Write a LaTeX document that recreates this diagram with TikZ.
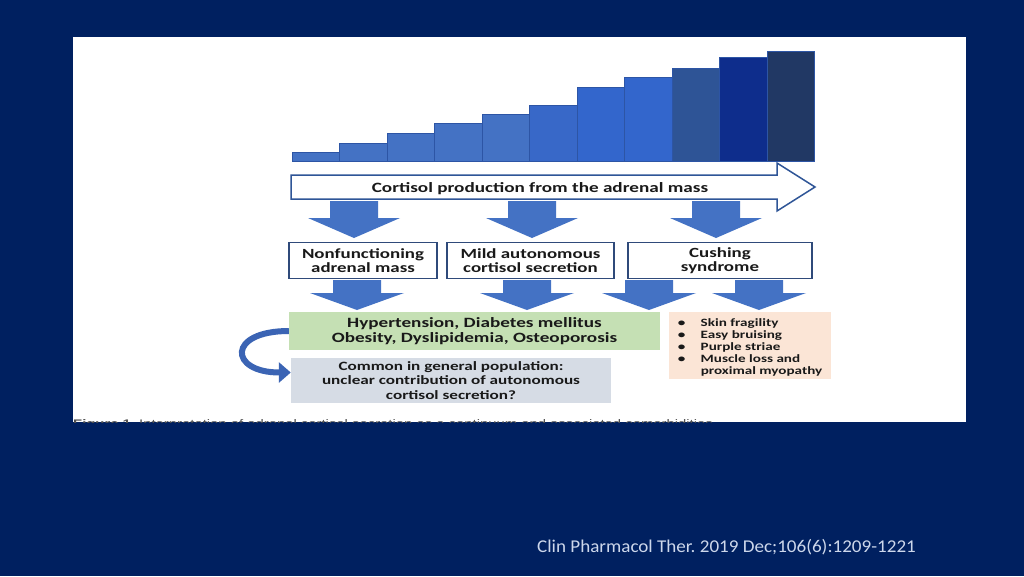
\documentclass[tikz,border=0pt]{standalone}
\usepackage{fontspec}
\setmainfont{Carlito}[FakeStretch=1.35]
\newfontfamily\capfont{Liberation Sans}[FakeStretch=1.35]
\newfontfamily\citefont{Carlito}[FakeStretch=1.06]
\usetikzlibrary{arrows.meta}
\frenchspacing
\begin{document}
\begin{tikzpicture}[x=1pt,y=-1pt,
  bar/.style={draw={rgb,255:red,45;green,85;blue,165},line width=0.4pt},
  blockarrow/.style={fill={rgb,255:red,68;green,114;blue,196},draw=none},
  stagebox/.style={draw={rgb,255:red,47;green,74;blue,122},line width=1.8pt,fill=white,minimum height=36pt,inner sep=0pt,align=center,text={rgb,255:red,25;green,25;blue,25},font=\bfseries\fontsize{14}{14.5}\selectfont},
  infobox/.style={draw=none,inner sep=0pt,align=center,text={rgb,255:red,25;green,25;blue,25}}]
\path[use as bounding box] (0,0) rectangle (1024,576);
\path[fill={rgb,255:red,0;green,32;blue,96},draw=none] (0,0) rectangle (1024,576);
\path[fill=white,draw=none] (73,37) rectangle (966,422);
% staircase
\path[bar,fill={rgb,255:red,68;green,114;blue,196}] (292,152) rectangle (339.5,161);
\path[bar,fill={rgb,255:red,68;green,114;blue,196}] (339.5,143) rectangle (387,161);
\path[bar,fill={rgb,255:red,68;green,114;blue,196}] (387,133) rectangle (434.5,161);
\path[bar,fill={rgb,255:red,68;green,114;blue,196}] (434.5,123) rectangle (482,161);
\path[bar,fill={rgb,255:red,68;green,114;blue,196}] (482,114) rectangle (529.5,161);
\path[bar,fill={rgb,255:red,56;green,104;blue,200}] (529.5,105) rectangle (577,161);
\path[bar,fill={rgb,255:red,51;green,102;blue,204}] (577,87) rectangle (624.5,161);
\path[bar,fill={rgb,255:red,51;green,102;blue,204}] (624.5,77) rectangle (672,161);
\path[bar,fill={rgb,255:red,46;green,84;blue,150}] (672,68) rectangle (719.5,161);
\path[bar,fill={rgb,255:red,14;green,45;blue,140}] (719.5,57) rectangle (767,161);
\path[bar,fill={rgb,255:red,33;green,56;blue,100}] (767,51) rectangle (814.5,161);
% production arrow
\path[fill=white,draw={rgb,255:red,47;green,85;blue,151},line width=1.5pt] (291,175) -- (777,175) -- (777,163) -- (815,187) -- (777,211) -- (777,199) -- (291,199) -- cycle;
\node[inner sep=0pt,text={rgb,255:red,25;green,25;blue,25},font=\bfseries\fontsize{14.2}{16}\selectfont] (prod) at (540,188.5) {Cortisol production from the adrenal mass};
% first row of block arrows
\path[blockarrow] (330,201) -- (378,201) -- (378,218) -- (400,218) -- (354,238) -- (308,218) -- (330,218) -- cycle;
\path[blockarrow] (508,201) -- (556,201) -- (556,218) -- (578,218) -- (532,238) -- (486,218) -- (508,218) -- cycle;
\path[blockarrow] (692,201) -- (740,201) -- (740,218) -- (762,218) -- (716,238) -- (670,218) -- (692,218) -- cycle;
% stages
\node[stagebox,minimum width=148pt] (nonfunc) at (363,260.5) {Nonfunctioning\\adrenal mass};
\node[stagebox,minimum width=167pt] (macs) at (530.5,260.5) {Mild autonomous\\cortisol secretion};
\node[stagebox,minimum width=184pt] (cushing) at (720,260.5) {Cushing\\syndrome};
% second row of block arrows
\path[blockarrow] (333,280) -- (381,280) -- (381,293) -- (404,293) -- (357,310) -- (310,293) -- (333,293) -- cycle;
\path[blockarrow] (503,280) -- (551,280) -- (551,293) -- (574,293) -- (527,310) -- (480,293) -- (503,293) -- cycle;
\path[blockarrow] (625,280) -- (673,280) -- (673,293) -- (696,293) -- (649,310) -- (602,293) -- (625,293) -- cycle;
\path[blockarrow] (735,280) -- (783,280) -- (783,293) -- (806,293) -- (759,310) -- (712,293) -- (735,293) -- cycle;
% comorbidities
\node[infobox,fill={rgb,255:red,197;green,224;blue,180},minimum width=371pt,minimum height=38pt,font=\bfseries\fontsize{14.2}{15}\selectfont] (common) at (474.5,331) {Hypertension, Diabetes mellitus\\Obesity, Dyslipidemia, Osteoporosis};
\node[infobox,fill={rgb,255:red,251;green,229;blue,214},minimum width=162pt,minimum height=67pt,font=\bfseries\fontsize{11.2}{12}\selectfont] (specific) at (750,345.5) {\begin{tabular}{@{}p{23pt}@{}l@{}}
\rule{0pt}{13pt}\textbullet & Skin fragility\\
\textbullet & Easy bruising\\
\textbullet & Purple striae\\
\textbullet & Muscle loss and\\
 & proximal myopathy
\end{tabular}};
\node[infobox,fill={rgb,255:red,214;green,220;blue,229},minimum width=320pt,minimum height=45pt,font=\bfseries\fontsize{12.7}{14.5}\selectfont] (unclear) at (451,380.5) {Common in general population:\\unclear contribution of autonomous\\cortisol secretion?};
\draw[draw={rgb,255:red,59;green,100;blue,180},line width=6pt,-{Triangle[width=20pt,length=12pt]}] (common.west) .. controls +(-62,0) and +(-62,0) .. ([yshift=8pt]unclear.west);
% caption, cut off by the slide
\begin{scope}
\clip (73,37) rectangle (966,422);
\node[inner sep=0pt,anchor=base west,text={rgb,255:red,80;green,80;blue,80},font=\capfont\fontsize{11}{13}\selectfont] (figcap) at (73,427) {\textbf{Figure 1}\ \ Interpretation of adrenal cortisol secretion as a continuum and associated comorbidities};
\end{scope}
\node[inner sep=0pt,anchor=base west,text={rgb,255:red,205;green,215;blue,235},font=\citefont\fontsize{18}{21}\selectfont] (cite) at (537,552) {Clin Pharmacol Ther. 2019 Dec;106(6):1209-1221};
\end{tikzpicture}
\end{document}
